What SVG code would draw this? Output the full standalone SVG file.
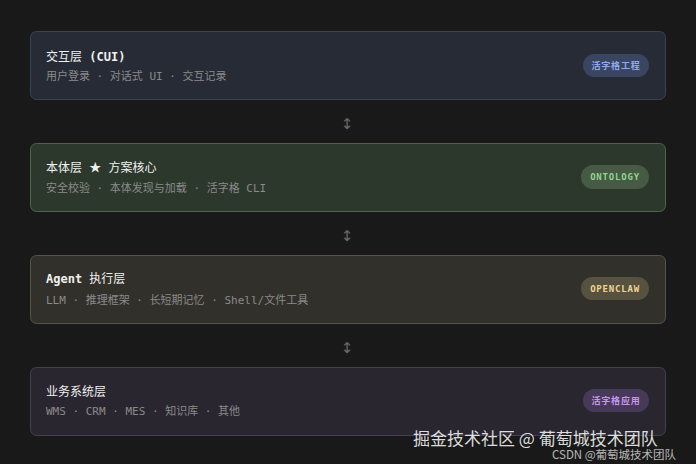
<svg xmlns="http://www.w3.org/2000/svg" width="696" height="464" viewBox="0 0 696 464">
<style>
.title{font-family:"DejaVu Sans Mono","Noto Sans CJK SC",monospace;font-size:12px;font-weight:bold;fill:#f0f0f0}
.title .cjk{font-family:"Noto Sans CJK SC",sans-serif;font-weight:normal}
.sub{font-family:"DejaVu Sans Mono","Noto Sans CJK SC",monospace;font-size:11px;fill:#8a8a8a}
.badge{font-family:"DejaVu Sans Mono","Noto Sans CJK SC",monospace;font-size:9px;font-weight:bold;letter-spacing:0.8px;text-anchor:middle}
.arrow{font-family:"DejaVu Sans",sans-serif;font-size:15px;fill:#6a6a6a;text-anchor:middle}
.wm{font-family:"Noto Sans CJK SC",sans-serif;fill:#ffffff}
</style>
<rect width="696" height="464" fill="#191919"/>
<g id="connectors">
<text class="arrow" x="347" y="129">↕</text>
<text class="arrow" x="347" y="241">↕</text>
<text class="arrow" x="347" y="353">↕</text>
</g>
<g id="layer-gui">
<rect x="30.5" y="31.5" width="635" height="68" rx="6" fill="#262b36" stroke="#3c4356"/>
<text class="title" x="46" y="61"><tspan class="cjk">交互层</tspan> (CUI)</text>
<text class="sub" x="46" y="80">用户登录 · 对话式 UI · 交互记录</text>
<rect x="583" y="54" width="66" height="23" rx="11.5" fill="#3a4562"/>
<text class="badge" x="616" y="68.5" fill="#8eaaea">活字格工程</text>
</g>
<g id="layer-ontology">
<rect x="30.5" y="143.5" width="635" height="68" rx="6" fill="#2c382c" stroke="#4c664c"/>
<text class="title" x="46" y="172"><tspan class="cjk">本体层</tspan> <tspan class="cjk">★</tspan> <tspan class="cjk">方案核心</tspan></text>
<text class="sub" x="46" y="192">安全校验 · 本体发现与加载 · 活字格 CLI</text>
<rect x="581" y="165" width="68" height="24" rx="12" fill="#465a44"/>
<text class="badge" x="615" y="180" fill="#8fd68f">ONTOLOGY</text>
</g>
<g id="layer-agent">
<rect x="30.5" y="255.5" width="635" height="68" rx="6" fill="#32302a" stroke="#58544a"/>
<text class="title" x="46" y="283">Agent <tspan class="cjk">执行层</tspan></text>
<text class="sub" x="46" y="304">LLM · 推理框架 · 长短期记忆 · Shell/文件工具</text>
<rect x="581" y="277" width="68" height="23" rx="11.5" fill="#57513f"/>
<text class="badge" x="615" y="291.5" fill="#eed694">OPENCLAW</text>
</g>
<g id="layer-business">
<rect x="30.5" y="367.5" width="635" height="68" rx="6" fill="#29262f" stroke="#46404e"/>
<text class="title" x="46" y="396"><tspan class="cjk">业务系统层</tspan></text>
<text class="sub" x="46" y="415">WMS · CRM · MES · 知识库 · 其他</text>
<rect x="583" y="389" width="66" height="23" rx="11.5" fill="#463a58"/>
<text class="badge" x="616" y="403.5" fill="#c696f0">活字格应用</text>
</g>
<text class="wm" x="413" y="445" font-size="17" fill-opacity="0.85">掘金技术社区 @ 葡萄城技术团队</text>
<text class="wm" x="552" y="459" font-size="11.5" fill-opacity="0.7">CSDN @葡萄城技术团队</text>
</svg>
